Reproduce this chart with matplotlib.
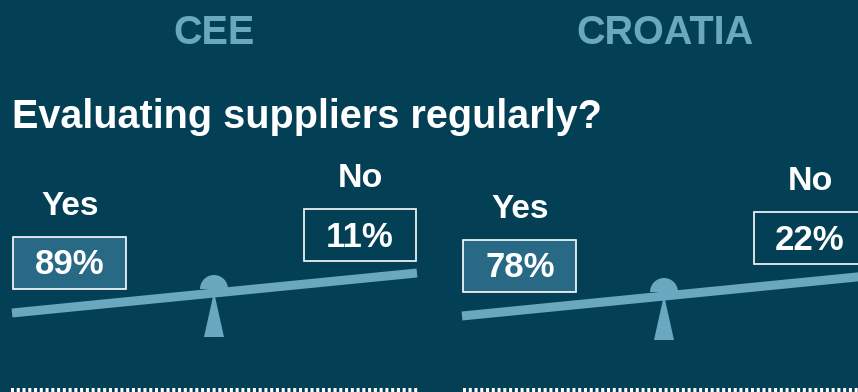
import numpy as np
import matplotlib.pyplot as plt
from matplotlib.patches import Rectangle, Polygon, Wedge

regions = ['CEE', 'CROATIA']
yes_share = [89, 78]
no_share = [11, 22]
answers = ['Yes', 'No']
question = 'Evaluating suppliers regularly?'

BG = '#033f55'
TEAL = '#6aa8bf'
BOX = '#286a85'

plt.rcParams['font.family'] = ['Liberation Sans', 'DejaVu Sans']
plt.rcParams['font.weight'] = 'bold'

W, H = 858, 392
fig = plt.figure(figsize=(W / 100, H / 100), dpi=100, facecolor=BG)
ax = fig.add_axes([0, 0, 1, 1])
ax.set_xlim(0, W)
ax.set_ylim(H, 0)
ax.axis('off')
ax.set_facecolor(BG)


def seesaw(ax, x0, y0, yes, no):
    # beam, tilted down towards the "Yes" side
    p0 = np.array([x0 + 12, y0 + 313])
    p1 = np.array([x0 + 417, y0 + 273])
    d = (p1 - p0) / np.linalg.norm(p1 - p0)
    n = np.array([-d[1], d[0]]) * 4.5
    ax.add_patch(Polygon([p0 + n, p1 + n, p1 - n, p0 - n], closed=True,
                         fc=TEAL, ec='none', zorder=2))
    # fulcrum: dome on top of the beam + wedge below
    ax.add_patch(Wedge((x0 + 214, y0 + 289), 14, 180, 360, fc=TEAL,
                       ec='none', zorder=2))
    ax.add_patch(Polygon([(x0 + 214, y0 + 292), (x0 + 204, y0 + 337),
                          (x0 + 224, y0 + 337)], closed=True,
                         fc=TEAL, ec='none', zorder=2))

    # Yes side
    ax.text(x0 + 70, y0 + 215, answers[0], color='white', fontsize=24,
            ha='center', va='baseline')
    ax.add_patch(Rectangle((x0 + 13, y0 + 237), 113, 52, fc=BOX,
                           ec='white', lw=1.2, zorder=3))
    ax.text(x0 + 70, y0 + 274, f'{yes}%', color='white', fontsize=25,
            ha='center', va='baseline', zorder=4)

    # No side
    ax.text(x0 + 360, y0 + 187, answers[1], color='white', fontsize=24.5,
            ha='center', va='baseline')
    ax.add_patch(Rectangle((x0 + 304, y0 + 209), 112, 52, fc=BG,
                           ec='white', lw=1.2, zorder=3))
    ax.text(x0 + 360, y0 + 247, f'{no}%', color='white', fontsize=25,
            ha='center', va='baseline', zorder=4)


for i, region in enumerate(regions):
    ax.text(214 + 451 * i, 44, region, color=TEAL, fontsize=28.5,
            ha='center', va='baseline')
    seesaw(ax, 450 * i, 3 * i, yes_share[i], no_share[i])

ax.text(12, 128, question, color='white', fontsize=28.5, ha='left', va='baseline')

# dotted separators along the bottom edge
for xa, xb in [(11, 419), (463, 860)]:
    ax.plot([xa, xb], [390, 390], color='white', lw=2.9,
            dashes=(0.75, 0.68), solid_capstyle='butt', dash_capstyle='butt')

fig.savefig('out.png', dpi=100, facecolor=BG)
